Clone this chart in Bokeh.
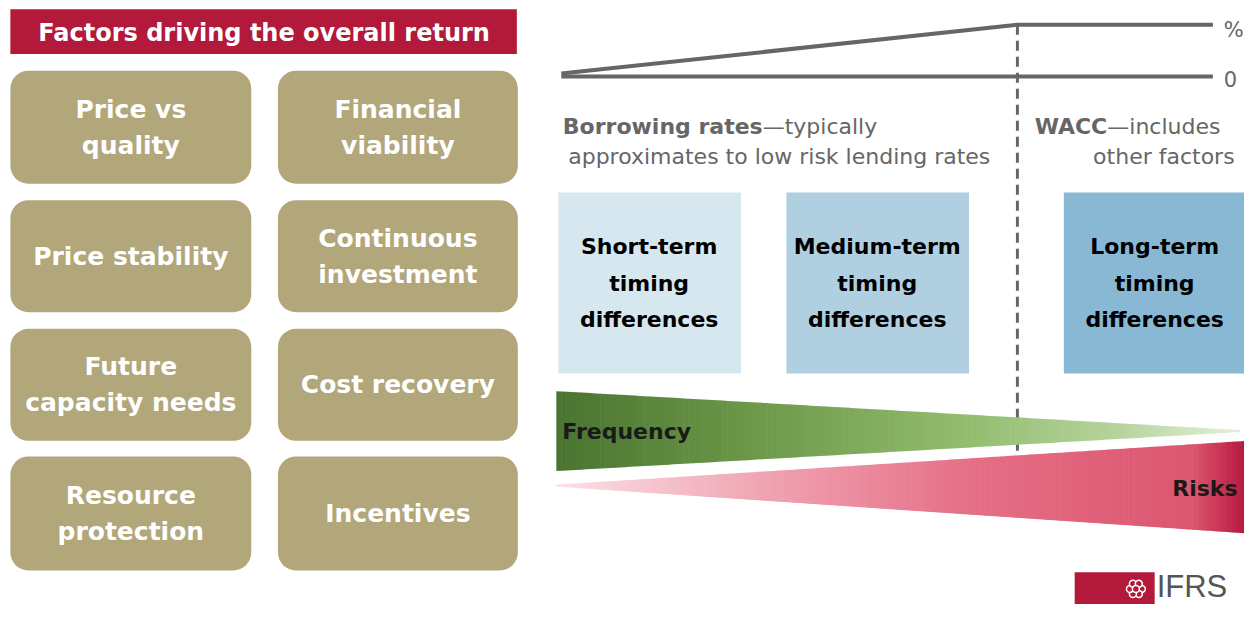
from bokeh.plotting import figure
from bokeh.models import Range1d, ColumnDataSource
from bokeh.core.properties import value
from bokeh.embed import file_html
from bokeh.resources import INLINE
import math

FONT = "DejaVu Sans"

# ---- data ----
title_text = "Factors driving the overall return"
factor_labels = ["Price vs\nquality", "Financial\nviability",
                 "Price stability", "Continuous\ninvestment",
                 "Future\ncapacity needs", "Cost recovery",
                 "Resource\nprotection", "Incentives"]
factor_col = [0, 1, 0, 1, 0, 1, 0, 1]
factor_row = [0, 0, 1, 1, 2, 2, 3, 3]

timing_labels = ["Short-term\ntiming\ndifferences", "Medium-term\ntiming\ndifferences",
                 "Long-term\ntiming\ndifferences"]
timing_colors = ["#D7E7F0", "#B0CFE1", "#88B8D4"]
timing_left = [565, 796, 1077]
timing_right = [750, 981, 1270]
timing_text_x = [657, 888, 1169]

rate_labels = ["%", "0"]

# ---- layout ----
p = figure(width=1244, height=604, output_backend="svg", toolbar_location=None,
           x_range=Range1d(0, 1260), y_range=Range1d(620, 0), min_border=0)
p.axis.visible = False
p.grid.visible = False
p.outline_line_color = None
p.background_fill_color = "white"

# title bar
p.quad(left=[10], right=[523], top=[9], bottom=[55], fill_color="#B3193A", line_color=None)
p.text(x=[267], y=[33], text=[title_text], text_font=value(FONT), text_font_style="bold",
       text_font_size="24px", text_color="white", text_align="center", text_baseline="middle")

# factor boxes
col_l = [10, 281]
col_r = [254, 524]
row_t = [72, 205, 337, 468]
row_b = [188, 320, 452, 585]
src = ColumnDataSource(dict(
    l=[col_l[c] for c in factor_col], r=[col_r[c] for c in factor_col],
    t=[row_t[r] for r in factor_row], b=[row_b[r] for r in factor_row],
    x=[(col_l[c] + col_r[c]) / 2 for c in factor_col],
    y=[(row_t[r] + row_b[r]) / 2 for r in factor_row],
    txt=factor_labels))
p.quad(left="l", right="r", top="t", bottom="b", source=src, fill_color="#B2A67B",
       line_color=None, border_radius=18)
p.text(x="x", y="y", text="txt", source=src, text_font=value(FONT), text_font_style="bold",
       text_font_size="25px", text_color="white", text_align="center", text_baseline="middle",
       text_line_height=1.25)

# rate lines
p.line(x=[568, 1030, 1228], y=[75, 25, 25], line_color="#666666", line_width=4)
p.line(x=[568, 1228], y=[78, 78], line_color="#666666", line_width=4)
p.text(x=[1239, 1239], y=[30, 81], text=rate_labels, text_font=value(FONT),
       text_font_size="21px", text_color="#666666", text_baseline="middle")

# dashed divider
p.line(x=[1030, 1030], y=[25, 466], line_color="#666666", line_width=3, line_dash="10 6")

# borrowing / WACC text
p.text(x=[772], y=[129], text=["Borrowing rates"], text_font=value(FONT), text_font_style="bold",
       text_font_size="22px", text_color="#666666", text_baseline="middle", text_align="right")
p.text(x=[772], y=[129], text=["\u2014typically"], text_font=value(FONT),
       text_font_size="22px", text_color="#666666", text_baseline="middle")
p.text(x=[575], y=[160], text=["approximates to low risk lending rates"], text_font=value(FONT),
       text_font_size="22px", text_color="#666666", text_baseline="middle")
p.text(x=[1121], y=[129], text=["WACC"], text_font=value(FONT), text_font_style="bold",
       text_font_size="22px", text_color="#666666", text_baseline="middle", text_align="right")
p.text(x=[1121], y=[129], text=["\u2014includes"], text_font=value(FONT),
       text_font_size="22px", text_color="#666666", text_baseline="middle")
p.text(x=[1250], y=[160], text=["other factors"], text_font=value(FONT),
       text_font_size="22px", text_color="#666666", text_baseline="middle", text_align="right")

# timing boxes
tsrc = ColumnDataSource(dict(l=timing_left, r=timing_right, c=timing_colors, txt=timing_labels,
                             x=timing_text_x))
p.quad(left="l", right="r", top=197, bottom=383, fill_color="c", line_color=None, source=tsrc)
p.text(x="x", y=290, text="txt", source=tsrc, text_font=value(FONT), text_font_style="bold",
       text_font_size="22px", text_color="black", text_align="center", text_baseline="middle",
       text_line_height=1.45)


# gradient wedges
def hex2rgb(h):
    h = h.lstrip("#")
    return [int(h[i:i + 2], 16) for i in (0, 2, 4)]


def grad(stops, t):
    for (t0, c0), (t1, c1) in zip(stops[:-1], stops[1:]):
        if t0 <= t <= t1:
            f = (t - t0) / (t1 - t0) if t1 > t0 else 0
            a, b = hex2rgb(c0), hex2rgb(c1)
            return "#%02x%02x%02x" % tuple(int(round(a[i] + (b[i] - a[i]) * f)) for i in range(3))
    return stops[-1][1]


def wedge(x0, x1, top0, top1, bot0, bot1, stops, n=140):
    xs, ys, cs = [], [], []
    for i in range(n):
        ta, tb = i / n, (i + 1) / n
        xa, xb = x0 + (x1 - x0) * ta, x0 + (x1 - x0) * tb + 0.6
        ya_t, yb_t = top0 + (top1 - top0) * ta, top0 + (top1 - top0) * tb
        ya_b, yb_b = bot0 + (bot1 - bot0) * ta, bot0 + (bot1 - bot0) * tb
        xs.append([xa, xb, xb, xa])
        ys.append([ya_t, yb_t, yb_b, ya_b])
        cs.append(grad(stops, (ta + tb) / 2))
    p.patches(xs=xs, ys=ys, fill_color=cs, line_color=None)


green_stops = [(0, "#4A7430"), (0.3, "#6E9A4B"), (0.6, "#93BC6F"), (0.82, "#B5D39C"), (1, "#E4F0DA")]
red_stops = [(0, "#FAE1E6"), (0.3, "#F0A3B2"), (0.6, "#E56F86"), (0.92, "#DC5670"), (1, "#B6183D")]
wedge(563, 1255, 401, 441, 483, 443, green_stops)
wedge(563, 1262, 497, 452, 499, 547, red_stops)

p.text(x=[569], y=[442], text=["Frequency"], text_font=value(FONT), text_font_style="bold",
       text_font_size="22px", text_color="#1a1a1a", text_baseline="middle")
p.text(x=[1253], y=[501], text=["Risks"], text_font=value(FONT), text_font_style="bold",
       text_font_size="22px", text_color="#1a1a1a", text_baseline="middle", text_align="right")

# IFRS logo
p.quad(left=[1088], right=[1169], top=[587], bottom=[625], fill_color="#B3193A", line_color=None)
cx, cy = 1150, 604
rx = [cx + 6 * math.cos(k * math.pi / 3) for k in range(6)] + [cx]
ry = [cy + 6 * math.sin(k * math.pi / 3) for k in range(6)] + [cy]
p.scatter(x=rx, y=ry, size=7, marker="circle", fill_color="#B3193A", line_color="white", line_width=1.5)
p.text(x=[1171], y=[602], text=["IFRS"], text_font=value("Liberation Sans"), text_font_size="31px",
       text_color="#555555", text_baseline="middle")

open("out.html", "w").write(file_html(p, INLINE))
